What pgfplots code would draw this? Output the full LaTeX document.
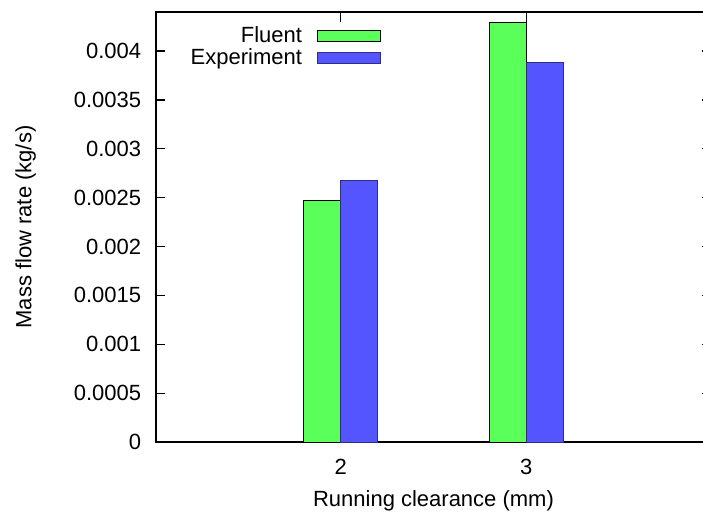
\documentclass[border=0pt]{standalone}
\usepackage{fontspec}
\setmainfont{Liberation Sans}
\usepackage{pgfplots}
\pgfplotsset{compat=1.18}
\definecolor{fgreen}{RGB}{90,255,90}
\definecolor{eblue}{RGB}{85,85,255}
\definecolor{eborder}{RGB}{45,45,130}
\pgfplotsset{barleg/.style={legend image code/.code={\draw[##1] (0bp,-1.3bp) rectangle (31.5bp,4.2bp);}}}
\begin{document}
\fontsize{11bp}{13bp}\selectfont
\begin{tikzpicture}
\path[use as bounding box] (0,0) rectangle (351.5bp,256.5bp);
\begin{axis}[
  at={(77.75bp,35.5bp)}, anchor=south west,
  scale only axis, width=278bp, height=215bp,
  xmin=1, xmax=4, ymin=0, ymax=0.0044,
  axis line style={line width=1bp},
  xtick={2,3}, xticklabels={2,3},
  ytick={0,0.0005,0.001,0.0015,0.002,0.0025,0.003,0.0035,0.004},
  yticklabels={0,0.0005,0.001,0.0015,0.002,0.0025,0.003,0.0035,0.004},
  tick align=inside, major tick length=5bp,
  tick style={line width=0.6bp, black},
  minor tick num=0,
  xticklabel style={inner sep=0pt, anchor=north, yshift=-8.6bp},
  yticklabel style={inner sep=0pt, anchor=east, xshift=-7bp},
  xlabel={Running clearance (mm)},
  ylabel={Mass flow rate (kg/s)},
  xlabel style={at={(axis description cs:0.5,0)}, anchor=base, yshift=-32.35bp},
  ylabel style={at={([xshift=-62bp]axis description cs:0,0.5)}, anchor=base, rotate=0},
  legend style={at={(0.4063,0.9628)}, anchor=north east, draw=none, fill=none,
    inner sep=0pt, row sep=0bp, column sep=7.5bp,
    nodes={inner sep=0pt, text height=7bp, text depth=4bp}},
  legend plot pos=right, legend cell align=right,
  barleg,
  clip=false,
]
\addplot[ybar, bar width=0.2, bar shift=-0.1, fill=fgreen, draw=black, line width=0.5bp]
  coordinates {(2,0.002467) (3,0.004296)};
\addlegendentry{Fluent}
\addplot[ybar, bar width=0.2, bar shift=0.1, fill=eblue, draw=eborder, line width=0.5bp]
  coordinates {(2,0.002677) (3,0.00388)};
\addlegendentry{Experiment}
\end{axis}
\end{tikzpicture}
\end{document}
